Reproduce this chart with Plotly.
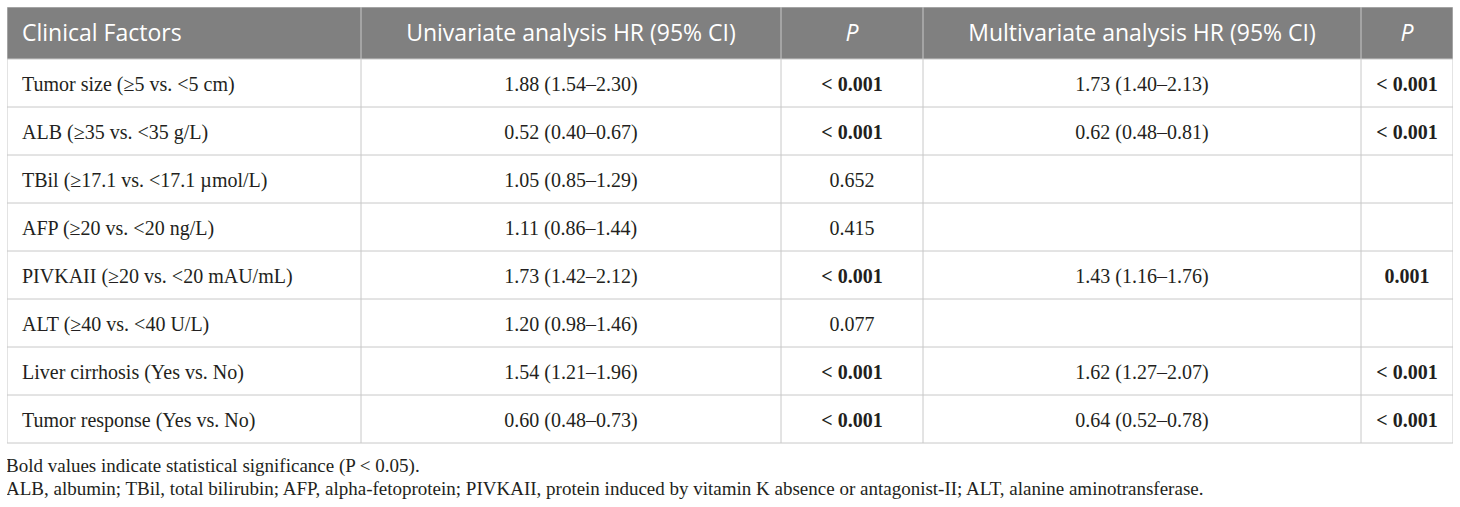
import plotly.graph_objects as go

# ---- data ----
header_labels = ["Clinical Factors", "Univariate analysis HR (95% CI)", "<i>P</i>",
                 "Multivariate analysis HR (95% CI)", "<i>P</i>"]
factors = ["Tumor size (≥5 vs. <5 cm)", "ALB (≥35 vs. <35 g/L)",
           "TBil (≥17.1 vs. <17.1 µmol/L)", "AFP (≥20 vs. <20 ng/L)",
           "PIVKAII (≥20 vs. <20 mAU/mL)", "ALT (≥40 vs. <40 U/L)",
           "Liver cirrhosis (Yes vs. No)", "Tumor response (Yes vs. No)"]
uni_hr = ["1.88 (1.54–2.30)", "0.52 (0.40–0.67)", "1.05 (0.85–1.29)", "1.11 (0.86–1.44)",
          "1.73 (1.42–2.12)", "1.20 (0.98–1.46)", "1.54 (1.21–1.96)", "0.60 (0.48–0.73)"]
uni_p = ["< 0.001", "< 0.001", "0.652", "0.415", "< 0.001", "0.077", "< 0.001", "< 0.001"]
multi_hr = ["1.73 (1.40–2.13)", "0.62 (0.48–0.81)", "", "", "1.43 (1.16–1.76)", "",
            "1.62 (1.27–2.07)", "0.64 (0.52–0.78)"]
multi_p = ["< 0.001", "< 0.001", "", "", "0.001", "", "< 0.001", "< 0.001"]
footnotes = ["Bold values indicate statistical significance (P < 0.05).",
             "ALB, albumin; TBil, total bilirubin; AFP, alpha-fetoprotein; PIVKAII, protein induced by vitamin K absence or antagonist-II; ALT, alanine aminotransferase."]

# ---- layout parameters (pixels) ----
col_widths = [354, 420, 142, 438, 92]
header_h = 52
row_h = 48
pad_left = 15
head_dy = 2
body_dy = 2.5
foot_gap = [24, 47]          # footnote centres below the table bottom
W_plot, H_plot = 1446, 500

border = "#c8c8c8"
text_color = "#231f20"
head_fill = "#808080"


def esc(s):
    return s.replace("<", "&lt;").replace(">", "&gt;")


def fmt_p(v):
    if v == "":
        return ""
    try:
        sig = float(v.replace("<", "").strip()) < 0.05
    except ValueError:
        sig = False
    t = esc(v)
    return f"<b>{t}</b>" if sig else t


edges = [0]
for w in col_widths:
    edges.append(edges[-1] + w)
centers = [(a + b) / 2 for a, b in zip(edges[:-1], edges[1:])]
n_rows = len(factors)
table_bottom = header_h + n_rows * row_h
row_y = [header_h + row_h * i + row_h / 2 + body_dy for i in range(n_rows)]
head_y = header_h / 2 + head_dy

fig = go.Figure()

# header background
fig.add_shape(type="rect", xref="x", yref="y", x0=edges[0], x1=edges[-1], y0=0, y1=header_h,
              fillcolor=head_fill, line=dict(width=0), layer="below")
# horizontal rules
for yv in [0, header_h] + [header_h + row_h * (i + 1) for i in range(n_rows)]:
    fig.add_shape(type="line", xref="x", yref="y", x0=edges[0], x1=edges[-1], y0=yv, y1=yv,
                  line=dict(color=border, width=1), layer="below")
# vertical rules
for xv in edges:
    fig.add_shape(type="line", xref="x", yref="y", x0=xv, x1=xv, y0=0, y1=table_bottom,
                  line=dict(color=border, width=1), layer="below")

# header text
head_font = dict(family="Open Sans", size=23, color="white")
fig.add_trace(go.Scatter(
    x=[edges[0] + pad_left], y=[head_y], text=[header_labels[0]], mode="text",
    textposition="middle right", hoverinfo="skip", textfont=head_font))
fig.add_trace(go.Scatter(
    x=centers[1:], y=[head_y] * 4, text=header_labels[1:], mode="text",
    textposition="middle center", hoverinfo="skip", textfont=head_font))

body_font = dict(family="Liberation Serif", size=20, color=text_color)
# first column (left aligned)
fig.add_trace(go.Scatter(
    x=[edges[0] + pad_left] * n_rows, y=row_y, text=[esc(f) for f in factors], mode="text",
    textposition="middle right", hoverinfo="skip", textfont=body_font))
# other columns (centred)
for ci, col in zip([1, 2, 3, 4], [uni_hr, [fmt_p(v) for v in uni_p], multi_hr,
                                  [fmt_p(v) for v in multi_p]]):
    fig.add_trace(go.Scatter(
        x=[centers[ci]] * n_rows, y=row_y, text=col, mode="text",
        textposition="middle center", hoverinfo="skip", textfont=body_font))

# footnotes
fig.add_trace(go.Scatter(
    x=[edges[0] - 1] * len(footnotes), y=[table_bottom + g for g in foot_gap],
    text=[esc(t) for t in footnotes], mode="text", textposition="middle right",
    hoverinfo="skip", textfont=dict(family="Liberation Serif", size=19, color=text_color)))

fig.update_xaxes(range=[0, W_plot], visible=False, fixedrange=True)
fig.update_yaxes(range=[H_plot, 0], visible=False, fixedrange=True)
fig.update_layout(width=1460, height=507, margin=dict(l=7, r=7, t=7, b=0),
                  paper_bgcolor="white", plot_bgcolor="white", showlegend=False)
fig.write_html("out.html", config={"displayModeBar": False},
               post_script="document.body.style.margin='0px';")
